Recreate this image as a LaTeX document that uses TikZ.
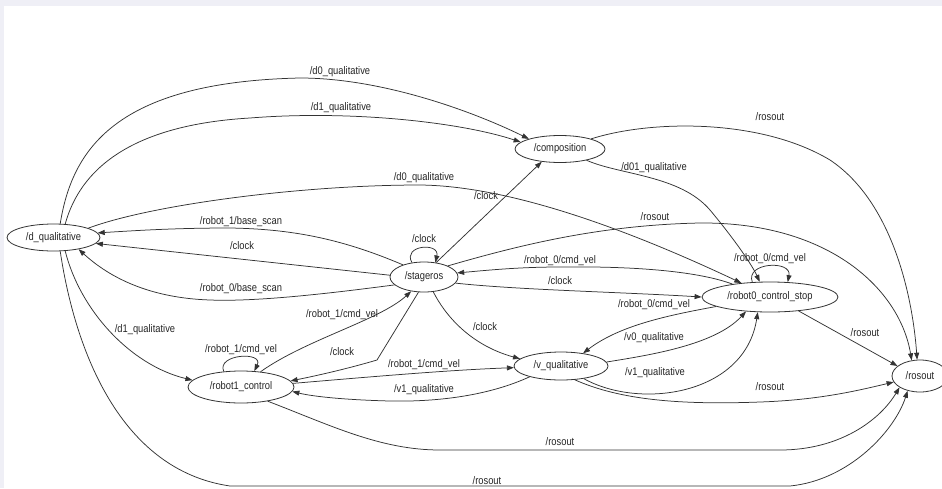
\documentclass[tikz,border=0pt]{standalone}
\usepackage{fontspec}
\setmainfont{Liberation Sans}[FakeStretch=0.85]
\usetikzlibrary{shapes.geometric,arrows.meta}
\definecolor{edgecol}{HTML}{333333}
\definecolor{bgcol}{RGB}{239,239,246}
\tikzset{
  nd/.style={ellipse, draw=edgecol, line width=0.8pt, inner sep=0pt, font=\fontsize{11}{12}\selectfont, text=black!85},
  lbl/.style={inner sep=0pt, font=\fontsize{11}{12}\selectfont, text=black!85},
  edge/.style={draw=edgecol, line width=0.75pt, -{Triangle[length=7pt,width=5pt]}},
}
\begin{document}
\begin{tikzpicture}[x=1pt,y=-1pt]
\fill[bgcol] (0,0) rectangle (942,488);
\fill[white] (4,6) rectangle (942,488);
\useasboundingbox (0,0) rectangle (942,488);

% nodes
\node[nd, minimum width=93pt, minimum height=27pt] (dq) at (53.5,237.5) {/d\_qualitative};
\node[nd, minimum width=90pt, minimum height=27pt] (comp) at (560,149) {/composition};
\node[nd, minimum width=68pt, minimum height=30pt] (st) at (424,277) {/stageros};
\node[nd, minimum width=136pt, minimum height=30pt] (rcs) at (770,297) {/robot0\_control\_stop};
\node[nd, minimum width=56pt, minimum height=32pt] (ro) at (920,376) {/rosout};
\node[nd, minimum width=94pt, minimum height=28pt] (vq) at (561,366) {/v\_qualitative};
\node[nd, minimum width=106pt, minimum height=32pt] (r1) at (241,387) {/robot1\_control};

% edges
\draw[edge] (dq.64) .. controls (72,150) and (115,82) .. (300,78) .. controls (380,78) and (470,110) .. (comp.162);
\draw[edge] (dq.49) .. controls (80,170) and (130,125) .. (250,118) .. controls (350,110) and (460,122) .. (comp.170);
\draw[edge] (dq.15) .. controls (150,205) and (300,185) .. (420,185) .. controls (520,186) and (650,240) .. (rcs.154);
\draw[edge] (st.150) .. controls (340,238) and (290,229) .. (230,228) .. controls (170,228) and (130,231) .. (dq.6);
\draw[edge] (st.177) -- (dq.-8);
\draw[edge] (st.195) .. controls (340,292) and (260,302) .. (210,300) .. controls (150,298) and (110,278) .. (dq.-25);
\draw[edge] (st.130) .. controls (402,245) and (440,242) .. (st.52);
\draw[edge] (st.50) -- (comp.215);
\draw[edge] (st.25) .. controls (520,245) and (600,225) .. (700,223) .. controls (830,222) and (900,290) .. (ro.118);
\draw[edge] (rcs.161) .. controls (700,272) and (640,266) .. (560,267) .. controls (520,267) and (490,270) .. (st.7);
\draw[edge] (st.-11) .. controls (520,290) and (620,292) .. (rcs.180);
\draw[edge] (rcs.190) .. controls (670,315) and (620,325) .. (vq.30);
\draw[edge] (vq.5) .. controls (650,355) and (715,345) .. (rcs.211);
\draw[edge] (vq.-29) .. controls (640,410) and (745,395) .. (rcs.231);
\draw[edge] (rcs.140) .. controls (745,262) and (792,260) .. (rcs.40);
\draw[edge] (comp.-23) .. controls (620,175) and (680,175) .. (710,210) .. controls (735,240) and (752,265) .. (rcs.124);
\draw[edge] (comp.18) .. controls (650,120) and (760,118) .. (830,160) .. controls (890,200) and (912,290) .. (ro.100);
\draw[edge] (rcs.-26) -- (ro.156);
\draw[edge] (vq.-45) .. controls (620,400) and (680,405) .. (760,402) .. controls (820,400) and (860,390) .. (ro.193);
\draw[edge] (r1.-28) .. controls (330,425) and (380,450) .. (440,450) -- (780,450) .. controls (840,450) and (880,420) .. (ro.209);
\draw[edge] (dq.-64) .. controls (75,350) and (120,470) .. (230,486) -- (790,486) .. controls (850,480) and (895,430) .. (ro.230);
\draw[edge] (dq.-49) .. controls (80,310) and (130,365) .. (r1.172);
\draw[edge] (r1.138) .. controls (216,354) and (264,351) .. (r1.50);
\draw[edge] (r1.38) .. controls (305,340) and (380,320) .. (st.228);
\draw[edge] (st.250) -- (377,360) .. controls (350,368) and (320,375) .. (r1.7);
\draw[edge] (r1.4) .. controls (380,376) and (450,370) .. (vq.182);
\draw[edge] (vq.199) .. controls (490,395) and (440,402) .. (390,401) .. controls (350,400) and (315,397) .. (r1.-5);
\draw[edge] (st.-58) .. controls (445,315) and (470,345) .. (vq.170);

% labels
\node[lbl] (l1) at (340,72) {/d0\_qualitative};
\node[lbl] (l2) at (341,108) {/d1\_qualitative};
\node[lbl] (l3) at (770,117) {/rosout};
\node[lbl] (l4) at (654,168) {/d01\_qualitative};
\node[lbl] (l5) at (424,178) {/d0\_qualitative};
\node[lbl] (l6) at (486,196) {/clock};
\node[lbl] (l7) at (655,217) {/rosout};
\node[lbl] (l8) at (241,222) {/robot\_1/base\_scan};
\node[lbl] (l9) at (242,246) {/clock};
\node[lbl] (l10) at (241,289) {/robot\_0/base\_scan};
\node[lbl] (l11) at (424,239) {/clock};
\node[lbl] (l12) at (560,261) {/robot\_0/cmd\_vel};
\node[lbl] (l13) at (560,281) {/clock};
\node[lbl] (l14) at (770,259) {/robot\_0/cmd\_vel};
\node[lbl] (l15) at (654,305) {/robot\_0/cmd\_vel};
\node[lbl] (l16) at (654,338) {/v0\_qualitative};
\node[lbl] (l17) at (655,373) {/v1\_qualitative};
\node[lbl] (l18) at (865,333) {/rosout};
\node[lbl] (l19) at (770,387) {/rosout};
\node[lbl] (l20) at (145,330) {/d1\_qualitative};
\node[lbl] (l21) at (241,350) {/robot\_1/cmd\_vel};
\node[lbl] (l22) at (342,315) {/robot\_1/cmd\_vel};
\node[lbl] (l23) at (342,352) {/clock};
\node[lbl] (l24) at (424,365) {/robot\_1/cmd\_vel};
\node[lbl] (l25) at (424,390) {/v1\_qualitative};
\node[lbl] (l26) at (485,327) {/clock};
\node[lbl] (l27) at (560,442) {/rosout};
\node[lbl] (l28) at (487,481) {/rosout};
\end{tikzpicture}
\end{document}
